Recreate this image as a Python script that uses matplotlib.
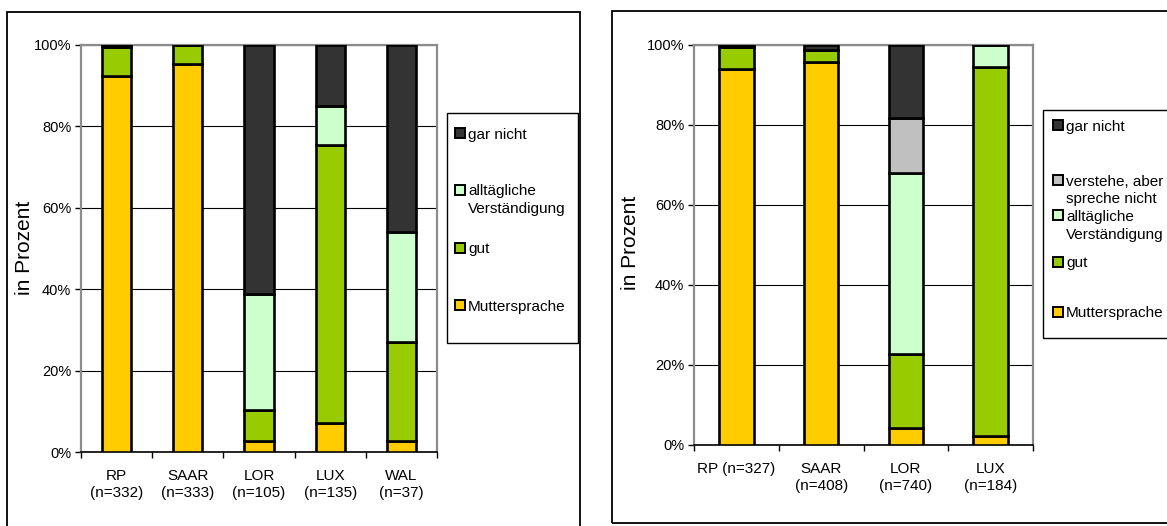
import matplotlib
matplotlib.use("Agg")
import matplotlib.pyplot as plt
from matplotlib.patches import Rectangle
import numpy as np

plt.rcParams['font.family'] = ['Liberation Sans', 'DejaVu Sans']

# ---- data ---------------------------------------------------------------
left_categories = ["RP\n(n=332)", "SAAR\n(n=333)", "LOR\n(n=105)", "LUX\n(n=135)", "WAL\n(n=37)"]
left_mutter = [92.5, 95.3, 2.6, 7.2, 2.7]
left_gut = [7.0, 4.7, 7.8, 68.3, 24.3]
left_alltag = [0.0, 0.0, 28.4, 9.5, 27.0]
left_garnicht = [0.5, 0.0, 61.2, 15.0, 46.0]

right_categories = ["RP (n=327)", "SAAR\n(n=408)", "LOR\n(n=740)", "LUX\n(n=184)"]
right_mutter = [94.0, 95.7, 4.3, 2.2]
right_gut = [5.4, 3.1, 18.5, 92.2]
right_alltag = [0.0, 0.0, 45.2, 5.6]
right_verstehe = [0.0, 0.0, 13.8, 0.0]
right_garnicht = [0.6, 1.2, 18.2, 0.0]

y_ticks = [0, 20, 40, 60, 80, 100]
y_ticklabels = ["0%", "20%", "40%", "60%", "80%", "100%"]

label_mutter = "Muttersprache"
label_gut = "gut"
label_alltag = "alltägliche\nVerständigung"
label_verstehe = "verstehe, aber\nspreche nicht"
label_garnicht = "gar nicht"

colors = {
    label_mutter: "#FFCC00",
    label_gut: "#99CC00",
    label_alltag: "#CCFFCC",
    label_verstehe: "#C0C0C0",
    label_garnicht: "#333333",
}

# ---- figure --------------------------------------------------------------
W, H = 1167, 526
fig = plt.figure(figsize=(W / 100, H / 100), dpi=100)


def fx(px):
    return px / W


def fy(py):
    return 1 - py / H


def frame(x0, y0, x1, y1, lw=1.3):
    fig.patches.append(Rectangle((fx(x0), fy(y1)), fx(x1) - fx(x0), fy(y0) - fy(y1),
                                 transform=fig.transFigure, fill=False,
                                 edgecolor="black", linewidth=lw, zorder=0))


def stacked_panel(rect, categories, series):
    ax = fig.add_axes(rect)
    x = np.arange(len(categories))
    bottom = np.zeros(len(categories))
    for name, vals in series:
        vals = np.asarray(vals, dtype=float)
        ax.bar(x, vals, width=0.41, bottom=bottom, color=colors[name],
               edgecolor="black", linewidth=1.9, zorder=3)
        bottom += vals
    ax.set_xlim(-0.5, len(categories) - 0.5)
    ax.set_ylim(0, 100)
    ax.set_yticks(y_ticks)
    ax.set_yticklabels(y_ticklabels, fontsize=10.5)
    ax.tick_params(axis="y", direction="out", length=4, width=1, pad=3, colors="black")
    ax.set_xticks(x)
    ax.set_xticklabels(categories, fontsize=11, linespacing=1.3)
    ax.tick_params(axis="x", which="major", length=0, pad=12)
    ax.set_xticks(np.arange(len(categories) + 1) - 0.5, minor=True)
    ax.tick_params(axis="x", which="minor", direction="out", length=4.5, width=1, colors="black")
    ax.yaxis.grid(True, color="black", linewidth=0.8)
    ax.set_axisbelow(True)
    for side in ("top", "right", "left"):
        ax.spines[side].set_color("#8c8c8c")
        ax.spines[side].set_linewidth(1.6)
    ax.spines["bottom"].set_color("black")
    ax.spines["bottom"].set_linewidth(1.2)
    return ax


def legend_box(x0, y0, x1, y1, entries, marker_x, text_x):
    frame(x0, y0, x1, y1, lw=1.0)
    s = 10
    for name, ytop in entries:
        fig.patches.append(Rectangle((fx(marker_x - s / 2), fy(ytop + s / 2)), s / W, s / H,
                                     transform=fig.transFigure, facecolor=colors[name],
                                     edgecolor="black", linewidth=1.4))
        for i, line in enumerate(name.split("\n")):
            fig.text(fx(text_x), fy(ytop + i * 18), line, fontsize=11,
                     ha="left", va="center_baseline")


# ---- left panel ----------------------------------------------------------
frame(7, 12, 580, 540)
stacked_panel([fx(81), fy(452), fx(437) - fx(81), fy(45) - fy(452)], left_categories,
              [(label_mutter, left_mutter), (label_gut, left_gut),
               (label_alltag, left_alltag), (label_garnicht, left_garnicht)])
fig.text(fx(25), fy(248), "in Prozent", rotation=90, fontsize=15, ha="center", va="center")
legend_box(447, 113, 578, 343,
           [(label_garnicht, 133), (label_alltag, 190), (label_gut, 248), (label_mutter, 305)],
           marker_x=460, text_x=468)

# ---- right panel ---------------------------------------------------------
frame(612, 11, 1185, 523)
stacked_panel([fx(694), fy(445), fx(1033) - fx(694), fy(45) - fy(445)], right_categories,
              [(label_mutter, right_mutter), (label_gut, right_gut),
               (label_alltag, right_alltag), (label_verstehe, right_verstehe),
               (label_garnicht, right_garnicht)])
fig.text(fx(630), fy(243), "in Prozent", rotation=90, fontsize=15, ha="center", va="center")
legend_box(1043, 110, 1190, 338,
           [(label_garnicht, 125), (label_verstehe, 180), (label_alltag, 215),
            (label_gut, 262), (label_mutter, 312)],
           marker_x=1058, text_x=1066)

fig.savefig("out.png", dpi=100)
